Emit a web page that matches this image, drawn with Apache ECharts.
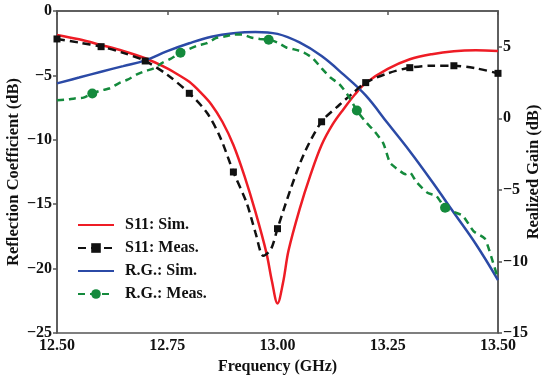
<!DOCTYPE html>
<html><head><meta charset="utf-8">
<script src="https://cdn.jsdelivr.net/npm/echarts@6/dist/echarts.min.js"></script>
<style>html,body{margin:0;padding:0;background:#fff}#c{width:550px;height:378px}</style>
</head><body><div id="c"></div>
<script>
const seriesNames = ['S11: Sim.', 'S11: Meas.', 'R.G.: Sim.', 'R.G.: Meas.'];
const xTicks = [12.5, 12.75, 13.0, 13.25, 13.5];
const leftTicks = [-25, -20, -15, -10, -5, 0];
const rightTicks = [-15, -10, -5, 0, 5];

const s11SimFreq = [12.50,12.55,12.60,12.65,12.70,12.75,12.775,12.80,12.825,12.85,12.875,12.90,12.925,12.95,12.975,12.9875,13.00,13.0125,13.025,13.05,13.075,13.10,13.125,13.15,13.175,13.20,13.25,13.30,13.35,13.40,13.45,13.50];
const s11SimVal  = [-1.86,-2.2,-2.64,-3.1,-3.67,-4.45,-4.95,-5.5,-6.3,-7.25,-8.6,-10.4,-12.8,-15.6,-18.8,-21.0,-22.7,-21.1,-18.6,-15.4,-12.7,-10.4,-8.8,-7.6,-6.5,-5.6,-4.5,-3.75,-3.35,-3.12,-3.05,-3.1];

const s11MeasFreq = [12.50,12.55,12.60,12.65,12.70,12.75,12.80,12.84,12.87,12.90,12.93,12.95,12.968,12.985,13.00,13.03,13.06,13.10,13.14,13.17,13.20,13.25,13.30,13.35,13.40,13.45,13.50];
const s11MeasVal  = [-2.17,-2.45,-2.77,-3.25,-3.88,-4.95,-6.39,-7.9,-9.8,-12.5,-14.9,-17.2,-19.0,-18.5,-16.9,-13.8,-11.1,-8.6,-7.3,-6.4,-5.56,-4.84,-4.4,-4.25,-4.25,-4.45,-4.84];
const s11MeasMarkers = [12.5,12.6,12.7,12.8,12.9,13.0,13.1,13.2,13.3,13.4,13.5];

const rgSimFreq = [12.50,12.55,12.60,12.65,12.70,12.75,12.80,12.85,12.90,12.95,13.00,13.05,13.10,13.15,13.20,13.25,13.30,13.35,13.40,13.45,13.50];
const rgSimVal  = [2.44,2.85,3.26,3.65,4.05,4.7,5.25,5.7,5.95,6.04,5.9,5.3,4.35,3.05,1.6,-0.35,-2.3,-4.4,-6.6,-8.8,-11.3];

const rgMeasFreq = [12.50,12.52,12.54,12.56,12.58,12.60,12.62,12.64,12.66,12.68,12.70,12.72,12.74,12.76,12.78,12.80,12.82,12.84,12.86,12.88,12.90,12.92,12.94,12.96,12.98,13.00,13.02,13.04,13.06,13.08,13.10,13.12,13.14,13.16,13.18,13.20,13.22,13.24,13.255,13.27,13.29,13.30,13.315,13.34,13.36,13.38,13.40,13.42,13.445,13.47,13.485,13.50];
const rgMeasVal  = [1.27,1.30,1.39,1.45,1.74,1.95,2.10,2.45,2.70,3.05,3.30,3.50,3.90,4.20,4.58,4.85,5.10,5.25,5.60,5.72,5.85,5.85,5.65,5.55,5.49,5.30,4.95,4.80,4.60,4.20,3.50,2.85,2.40,1.60,0.55,-0.25,-0.90,-1.75,-3.10,-3.50,-3.90,-3.78,-4.45,-5.20,-5.42,-6.25,-6.55,-6.80,-7.90,-8.40,-9.70,-11.20];
const rgMeasMarkers = [12.58,12.78,12.98,13.18,13.38];

function pairs(f, v) { return f.map((x, i) => [x, v[i]]); }
function marked(f, v, m) {
  return f.map((x, i) => {
    const isM = m.some(q => Math.abs(q - x) < 1e-6);
    return isM ? { value: [x, v[i]] } : { value: [x, v[i]], symbol: 'none' };
  });
}
const minus = s => String(s).replace('-', '\u2212');
const FONT = 'Liberation Serif';
const axisLineStyle = { color: '#555', width: 1.5 };
const titleStyle = { fontFamily: FONT, fontWeight: 'bold', fontSize: 16.5, color: '#111' };
const tickFont = { fontFamily: FONT, fontWeight: 'bold', fontSize: 16, color: '#111' };

const chart = echarts.init(document.getElementById('c'), null, { renderer: 'canvas' });
chart.setOption({
  animation: false,
  backgroundColor: '#fff',
  grid: { left: 57, right: 52, top: 11, bottom: 45, outerBoundsMode: 'none', containLabel: false,
          show: true, borderColor: '#555', borderWidth: 1.5 },
  legend: {
    orient: 'vertical', left: 72, top: 212, itemWidth: 36, itemHeight: 12, itemGap: 7,
    data: [
      { name: seriesNames[0], itemStyle: { opacity: 0 } },
      { name: seriesNames[1] },
      { name: seriesNames[2], itemStyle: { opacity: 0 } },
      { name: seriesNames[3] }
    ],
    textStyle: { fontFamily: FONT, fontWeight: 'bold', fontSize: 16, color: '#111', padding: [0, 0, 0, 6] }
  },
  xAxis: {
    type: 'value', min: 12.5, max: 13.5, interval: 0.25,
    name: 'Frequency (GHz)', nameLocation: 'middle', nameGap: 26, nameMoveOverlap: false,
    nameTextStyle: Object.assign({}, titleStyle, { fontSize: 16 }),
    axisLine: { show: true, lineStyle: axisLineStyle },
    axisTick: { show: true, inside: false, length: 4, lineStyle: axisLineStyle, customValues: xTicks },
    axisLabel: Object.assign({ margin: 5, formatter: v => v.toFixed(2), customValues: xTicks }, tickFont),
    splitLine: { show: false }
  },
  yAxis: [{
    type: 'value', min: -25, max: 0, interval: 5, position: 'left',
    name: 'Reflection Coefficient (dB)', nameLocation: 'middle', nameGap: 35, nameRotate: 90, nameMoveOverlap: false,
    nameTextStyle: titleStyle,
    axisLine: { show: true, lineStyle: axisLineStyle },
    axisTick: { show: true, length: 4, lineStyle: axisLineStyle, customValues: leftTicks },
    axisLabel: Object.assign({ margin: 5, formatter: minus, customValues: leftTicks }, tickFont),
    splitLine: { show: false }
  }, {
    type: 'value', min: -15, max: 7.5, interval: 5, position: 'right',
    name: 'Realized Gain (dB)', nameLocation: 'middle', nameGap: 27, nameRotate: 90, nameMoveOverlap: false,
    nameTextStyle: titleStyle,
    axisLine: { show: true, lineStyle: axisLineStyle },
    axisTick: { show: true, length: 4, lineStyle: axisLineStyle, customValues: rightTicks },
    axisLabel: Object.assign({ margin: 5, formatter: minus, customValues: rightTicks }, tickFont),
    splitLine: { show: false }
  }],
  series: [{
    name: seriesNames[0], type: 'line', yAxisIndex: 0, smooth: 0.35, showSymbol: false, symbol: 'none',
    data: pairs(s11SimFreq, s11SimVal),
    lineStyle: { color: '#ee1c25', width: 2.5 }, itemStyle: { color: '#ee1c25' }, z: 3
  }, {
    name: seriesNames[1], type: 'line', yAxisIndex: 0, smooth: 0.3, symbol: 'rect', symbolSize: 7, showAllSymbol: true,
    data: marked(s11MeasFreq, s11MeasVal, s11MeasMarkers),
    lineStyle: { color: '#111', width: 2.5, type: [8, 5] }, itemStyle: { color: '#111' }, z: 4
  }, {
    name: seriesNames[2], type: 'line', yAxisIndex: 1, smooth: 0.4, showSymbol: false, symbol: 'none',
    data: pairs(rgSimFreq, rgSimVal),
    lineStyle: { color: '#2b4aa6', width: 2.5 }, itemStyle: { color: '#2b4aa6' }, z: 3
  }, {
    name: seriesNames[3], type: 'line', yAxisIndex: 1, smooth: 0.2, symbol: 'circle', symbolSize: 10, showAllSymbol: true,
    data: marked(rgMeasFreq, rgMeasVal, rgMeasMarkers),
    lineStyle: { color: '#148a3c', width: 2.5, type: [7, 5] }, itemStyle: { color: '#148a3c' }, z: 4
  }]
});
</script>
</body></html>
